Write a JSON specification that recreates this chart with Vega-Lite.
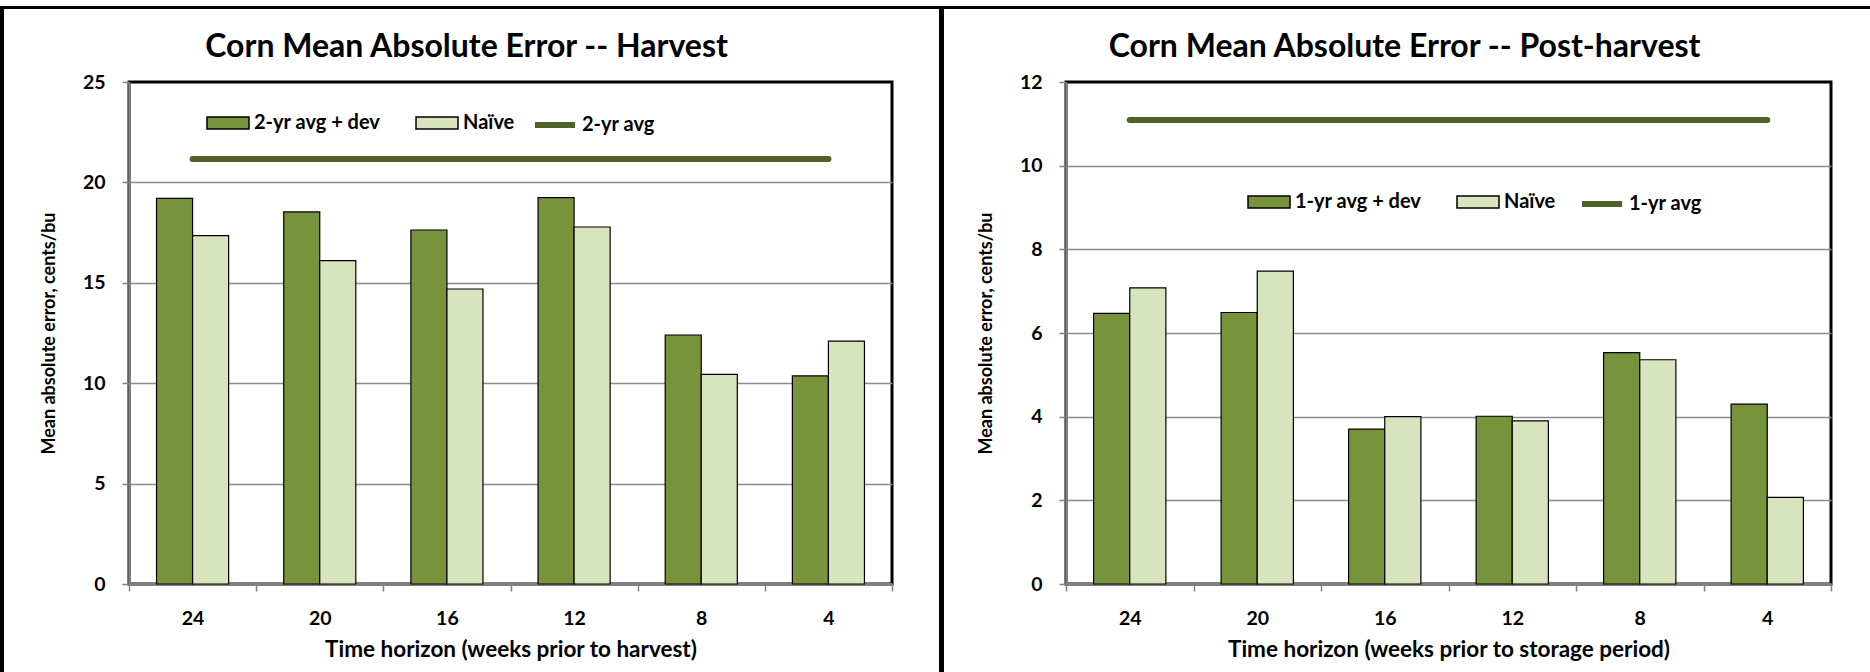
{
  "$schema": "https://vega.github.io/schema/vega-lite/v6.json",
  "background": "white",
  "padding": {"left": 0, "top": 6, "right": 0, "bottom": 0},
  "autosize": {"type": "pad"},
  "config": {
    "font": "Lato",
    "axis": {"labelFont": "Lato", "titleFont": "Lato", "labelFontWeight": "bold", "titleFontWeight": "bold", "labelColor": "black", "titleColor": "black"},
    "legend": {"labelFont": "Lato", "labelFontSize": 20, "labelFontWeight": "bold", "labelColor": "black", "labelOffset": 4, "columnPadding": 32, "padding": 0, "title": null, "orient": "none", "direction": "horizontal"}
  },
  "datasets": {
    "harvestBars": [
      {"week": 24, "series": "2-yr avg + dev", "value": 19.2},
      {"week": 24, "series": "Naïve", "value": 17.35},
      {"week": 20, "series": "2-yr avg + dev", "value": 18.53},
      {"week": 20, "series": "Naïve", "value": 16.1},
      {"week": 16, "series": "2-yr avg + dev", "value": 17.63},
      {"week": 16, "series": "Naïve", "value": 14.69},
      {"week": 12, "series": "2-yr avg + dev", "value": 19.24},
      {"week": 12, "series": "Naïve", "value": 17.78},
      {"week": 8, "series": "2-yr avg + dev", "value": 12.4},
      {"week": 8, "series": "Naïve", "value": 10.44},
      {"week": 4, "series": "2-yr avg + dev", "value": 10.36},
      {"week": 4, "series": "Naïve", "value": 12.1}
    ],
    "harvestLine": [
      {"week": 24, "series": "2-yr avg", "value": 21.17},
      {"week": 4, "series": "2-yr avg", "value": 21.17}
    ],
    "postBars": [
      {"week": 24, "series": "1-yr avg + dev", "value": 6.47},
      {"week": 24, "series": "Naïve", "value": 7.08},
      {"week": 20, "series": "1-yr avg + dev", "value": 6.49},
      {"week": 20, "series": "Naïve", "value": 7.48},
      {"week": 16, "series": "1-yr avg + dev", "value": 3.7},
      {"week": 16, "series": "Naïve", "value": 4.0},
      {"week": 12, "series": "1-yr avg + dev", "value": 4.01},
      {"week": 12, "series": "Naïve", "value": 3.9},
      {"week": 8, "series": "1-yr avg + dev", "value": 5.53},
      {"week": 8, "series": "Naïve", "value": 5.36},
      {"week": 4, "series": "1-yr avg + dev", "value": 4.3},
      {"week": 4, "series": "Naïve", "value": 2.07}
    ],
    "postLine": [
      {"week": 24, "series": "1-yr avg", "value": 11.09},
      {"week": 4, "series": "1-yr avg", "value": 11.09}
    ]
  },
  "spacing": 0,
  "resolve": {"scale": {"color": "independent", "stroke": "independent", "xOffset": "independent", "x": "independent", "y": "independent"}, "legend": {"color": "independent", "stroke": "independent"}},
  "vconcat": [
    {"width": 1870, "height": 3, "data": {"values": []}, "mark": "point", "view": {"fill": "black", "stroke": null}},
    {
      "spacing": 44,
      "resolve": {"scale": {"color": "independent", "stroke": "independent", "xOffset": "independent", "x": "independent", "y": "independent"}, "legend": {"color": "independent", "stroke": "independent"}},
      "hconcat": [
        {
          "spacing": 34,
          "resolve": {"scale": {"color": "independent", "stroke": "independent", "xOffset": "independent", "x": "independent", "y": "independent"}, "legend": {"color": "independent", "stroke": "independent"}},
          "hconcat": [
            {"width": 4, "height": 663, "data": {"values": []}, "mark": "point", "view": {"fill": "black", "stroke": null}},
            {
              "spacing": 19,
              "resolve": {"scale": {"color": "independent", "stroke": "independent", "xOffset": "independent", "x": "independent", "y": "independent"}, "legend": {"color": "independent", "stroke": "independent"}},
              "vconcat": [
                {"width": 1, "height": 1, "data": {"values": []}, "mark": "point", "view": {"stroke": null}},
                {
                  "width": 763,
                  "height": 502,
                  "view": {"stroke": "black", "strokeWidth": 3},
                  "title": {"text": "Corn Mean Absolute Error -- Harvest", "font": "Lato", "fontSize": 32, "fontWeight": "bold", "color": "black", "anchor": "middle", "frame": "bounds", "offset": 8},
                  "layer": [
                    {
                      "data": {"name": "harvestBars"},
                      "mark": {"type": "bar", "stroke": "black", "strokeWidth": 1.2},
                      "encoding": {
                        "x": {"field": "week", "type": "nominal", "sort": [24, 20, 16, 12, 8, 4], "scale": {"paddingInner": 0, "paddingOuter": 0},
                          "axis": {"title": "Time horizon (weeks prior to harvest)", "tickBand": "extent", "labelAngle": 0, "tickSize": 7, "tickColor": "#808080", "tickWidth": 1.5, "domainColor": "#808080", "domainWidth": 3, "labelFontSize": 19.5, "labelPadding": 18, "titleFontSize": 22.5, "titlePadding": 11}},
                        "xOffset": {"field": "series", "type": "nominal", "sort": ["2-yr avg + dev", "Naïve"], "scale": {"domain": ["2-yr avg + dev", "Naïve"], "paddingInner": 0, "paddingOuter": 0.764}},
                        "y": {"field": "value", "type": "quantitative", "scale": {"domain": [0, 25], "nice": false},
                          "axis": {"title": "Mean absolute error, cents/bu", "values": [0, 5, 10, 15, 20, 25], "tickSize": 7, "tickColor": "#808080", "tickWidth": 1.5, "domainColor": "#808080", "domainWidth": 2.5, "labelFontSize": 19.5, "labelPadding": 17, "titleFontSize": 18, "titlePadding": 24, "gridColor": "#8C8C8C", "gridWidth": 1.5, "gridOpacity": {"condition": {"test": "datum.value === 25", "value": 0}, "value": 1}}},
                        "color": {"field": "series", "type": "nominal",
                          "scale": {"domain": ["2-yr avg + dev", "Naïve"], "range": ["#77933C", "#D7E4BD"]},
                          "legend": {"orient": "none", "legendX": 77, "legendY": 19, "direction": "horizontal", "columns": 2,
                            "symbolType": "M-1,-0.28H1V0.28H-1Z", "symbolSize": 1764, "symbolStrokeColor": "black", "symbolStrokeWidth": 1.5, "symbolOpacity": 1}}
                      }
                    },
                    {
                      "data": {"name": "harvestLine"},
                      "mark": {"type": "line", "strokeWidth": 6, "strokeCap": "round"},
                      "encoding": {
                        "x": {"field": "week", "type": "nominal", "sort": [24, 20, 16, 12, 8, 4]},
                        "y": {"field": "value", "type": "quantitative"},
                        "stroke": {"field": "series", "type": "nominal",
                          "scale": {"domain": ["2-yr avg"], "range": ["#4F6228"]},
                          "legend": {"orient": "none", "legendX": 403, "legendY": 20, "direction": "horizontal",
                            "symbolType": "stroke", "symbolSize": 1600, "symbolStrokeWidth": 6, "symbolOpacity": 1}}
                      }
                    }
                  ]
                }
              ]
            }
          ]
        },
        {
          "spacing": 31,
          "resolve": {"scale": {"color": "independent", "stroke": "independent", "xOffset": "independent", "x": "independent", "y": "independent"}, "legend": {"color": "independent", "stroke": "independent"}},
          "hconcat": [
            {"width": 5, "height": 663, "data": {"values": []}, "mark": "point", "view": {"fill": "black", "stroke": null}},
            {
              "spacing": 19,
              "resolve": {"scale": {"color": "independent", "stroke": "independent", "xOffset": "independent", "x": "independent", "y": "independent"}, "legend": {"color": "independent", "stroke": "independent"}},
              "vconcat": [
                {"width": 1, "height": 1, "data": {"values": []}, "mark": "point", "view": {"stroke": null}},
                {
                  "width": 765,
                  "height": 502,
                  "view": {"stroke": "black", "strokeWidth": 3},
                  "title": {"text": "Corn Mean Absolute Error -- Post-harvest", "font": "Lato", "fontSize": 32, "fontWeight": "bold", "color": "black", "anchor": "middle", "frame": "bounds", "offset": 8},
                  "layer": [
                    {
                      "data": {"name": "postBars"},
                      "mark": {"type": "bar", "stroke": "black", "strokeWidth": 1.2},
                      "encoding": {
                        "x": {"field": "week", "type": "nominal", "sort": [24, 20, 16, 12, 8, 4], "scale": {"paddingInner": 0, "paddingOuter": 0},
                          "axis": {"title": "Time horizon (weeks prior to storage period)", "tickBand": "extent", "labelAngle": 0, "tickSize": 7, "tickColor": "#808080", "tickWidth": 1.5, "domainColor": "#808080", "domainWidth": 3, "labelFontSize": 19.5, "labelPadding": 18, "titleFontSize": 22.5, "titlePadding": 11}},
                        "xOffset": {"field": "series", "type": "nominal", "sort": ["1-yr avg + dev", "Naïve"], "scale": {"domain": ["1-yr avg + dev", "Naïve"], "paddingInner": 0, "paddingOuter": 0.764}},
                        "y": {"field": "value", "type": "quantitative", "scale": {"domain": [0, 12], "nice": false},
                          "axis": {"title": "Mean absolute error, cents/bu", "values": [0, 2, 4, 6, 8, 10, 12], "tickSize": 7, "tickColor": "#808080", "tickWidth": 1.5, "domainColor": "#808080", "domainWidth": 2.5, "labelFontSize": 19.5, "labelPadding": 17, "titleFontSize": 18, "titlePadding": 24, "gridColor": "#8C8C8C", "gridWidth": 1.5, "gridOpacity": {"condition": {"test": "datum.value === 12", "value": 0}, "value": 1}}},
                        "color": {"field": "series", "type": "nominal",
                          "scale": {"domain": ["1-yr avg + dev", "Naïve"], "range": ["#77933C", "#D7E4BD"]},
                          "legend": {"orient": "none", "legendX": 181, "legendY": 98, "direction": "horizontal", "columns": 2,
                            "symbolType": "M-1,-0.28H1V0.28H-1Z", "symbolSize": 1764, "symbolStrokeColor": "black", "symbolStrokeWidth": 1.5, "symbolOpacity": 1}}
                      }
                    },
                    {
                      "data": {"name": "postLine"},
                      "mark": {"type": "line", "strokeWidth": 6, "strokeCap": "round"},
                      "encoding": {
                        "x": {"field": "week", "type": "nominal", "sort": [24, 20, 16, 12, 8, 4]},
                        "y": {"field": "value", "type": "quantitative"},
                        "stroke": {"field": "series", "type": "nominal",
                          "scale": {"domain": ["1-yr avg"], "range": ["#4F6228"]},
                          "legend": {"orient": "none", "legendX": 513, "legendY": 99, "direction": "horizontal",
                            "symbolType": "stroke", "symbolSize": 1600, "symbolStrokeWidth": 6, "symbolOpacity": 1}}
                      }
                    }
                  ]
                }
              ]
            }
          ]
        }
      ]
    }
  ]
}
